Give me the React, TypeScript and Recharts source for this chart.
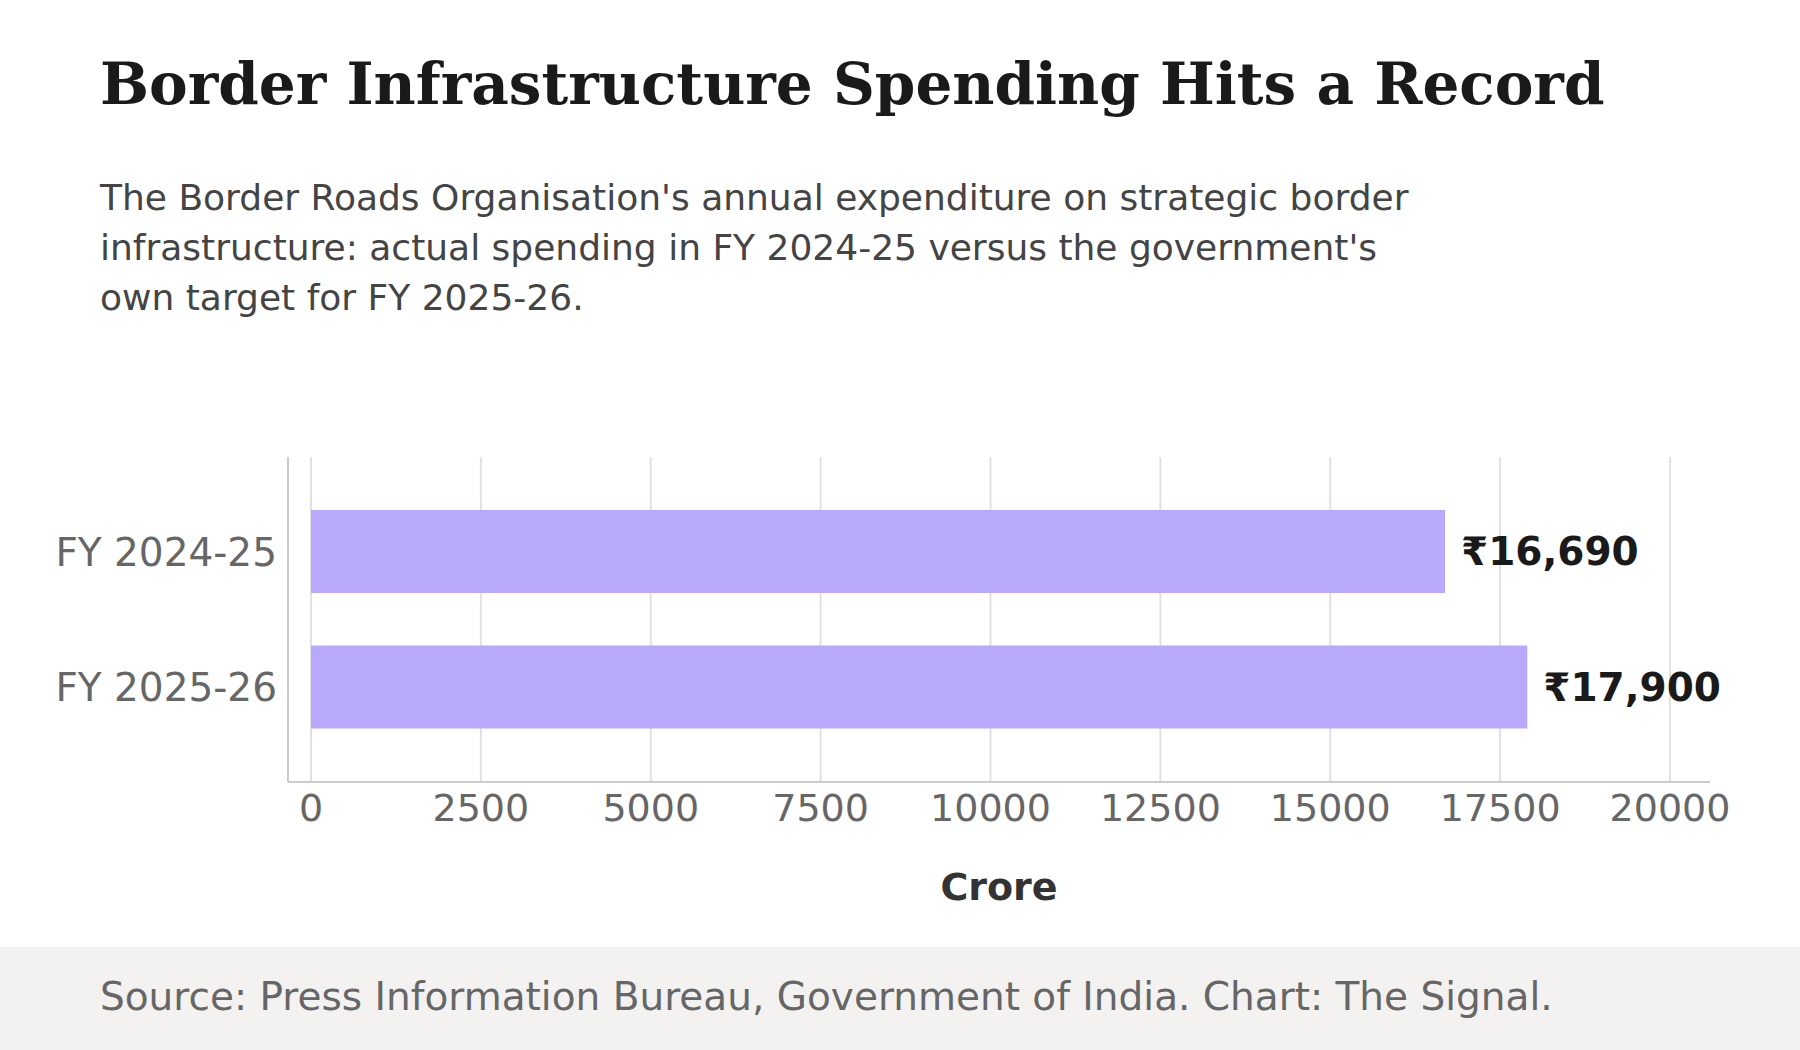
import React from "react";
import { BarChart, Bar, XAxis, YAxis, CartesianGrid, LabelList, Label } from "recharts";

const categories = ["FY 2024-25", "FY 2025-26"];
const values = [16690, 17900];
const xTicks = [0, 2500, 5000, 7500, 10000, 12500, 15000, 17500, 20000];
const xMax = 20000;
const padL = 23;
const padR = 40;

const data = categories.map((c, i) => ({ name: c, value: values[i] }));
const font = "'DejaVu Sans', sans-serif";

const gridGen = (props: any) => {
  const sc = props?.xAxis?.scale;
  if (typeof sc === "function") return xTicks.map((t) => sc(t));
  const o = props.offset;
  return xTicks.map((t) => o.left + padL + (t / xMax) * (o.width - padL - padR));
};

export default function App() {
  return (
    <div style={{ position: "absolute", left: 0, top: 0, width: 1800, height: 1050, background: "#fff", overflow: "hidden", fontFamily: font }}>
      <div style={{ position: "absolute", left: 100, top: 50, fontFamily: "'DejaVu Serif', serif", fontWeight: "bold", fontSize: 58, color: "#1a1a1a", whiteSpace: "nowrap" }}>
        Border Infrastructure Spending Hits a Record
      </div>
      <div style={{ position: "absolute", left: 100, top: 173, fontSize: 36, lineHeight: "50px", color: "#444", width: 1600 }}>
        The Border Roads Organisation's annual expenditure on strategic border<br />
        infrastructure: actual spending in FY 2024-25 versus the government's<br />
        own target for FY 2025-26.
      </div>
      <div style={{ position: "absolute", left: 0, top: 0 }}>
        <BarChart width={1800} height={940} data={data} layout="vertical"
          margin={{ top: 457, right: 90, bottom: 0, left: 0 }}>
          <CartesianGrid horizontal={false} stroke="#e2e1dd" strokeWidth={2}
            verticalCoordinatesGenerator={gridGen} />
          <XAxis type="number" domain={[0, xMax]} ticks={xTicks} padding={{ left: padL, right: padR }}
            tickLine={false} tickSize={0} tickMargin={12} axisLine={{ stroke: "#ccc", strokeWidth: 2 }}
            tick={{ fill: "#666", fontSize: 38, fontFamily: font }} height={158}>
            <Label value="Crore" position="insideTop" offset={91} fill="#333" fontWeight="bold" fontSize={38} fontFamily={font} />
          </XAxis>
          <YAxis type="category" dataKey="name" width={288} padding={{ top: 27, bottom: 27 }}
            tickLine={false} tickSize={0} tickMargin={11} axisLine={{ stroke: "#ccc", strokeWidth: 2 }}
            tick={{ fill: "#666", fontSize: 39, fontFamily: font }} />
          <Bar dataKey="value" fill="#b8a9fc" barSize={83} isAnimationActive={false}>
            <LabelList dataKey="value" position="right" offset={16}
              formatter={(v: number) => "₹" + v.toLocaleString("en-US")}
              style={{ fill: "#1a1a1a", fontWeight: "bold", fontSize: 39, fontFamily: font }} />
          </Bar>
        </BarChart>
      </div>
      <div style={{ position: "absolute", left: 0, top: 947, width: 1800, height: 103, background: "#f3f2f1" }}>
        <div style={{ position: "absolute", left: 100, top: 27, fontSize: 39, color: "#666", whiteSpace: "nowrap" }}>
          Source: Press Information Bureau, Government of India. Chart: The Signal.
        </div>
      </div>
    </div>
  );
}
